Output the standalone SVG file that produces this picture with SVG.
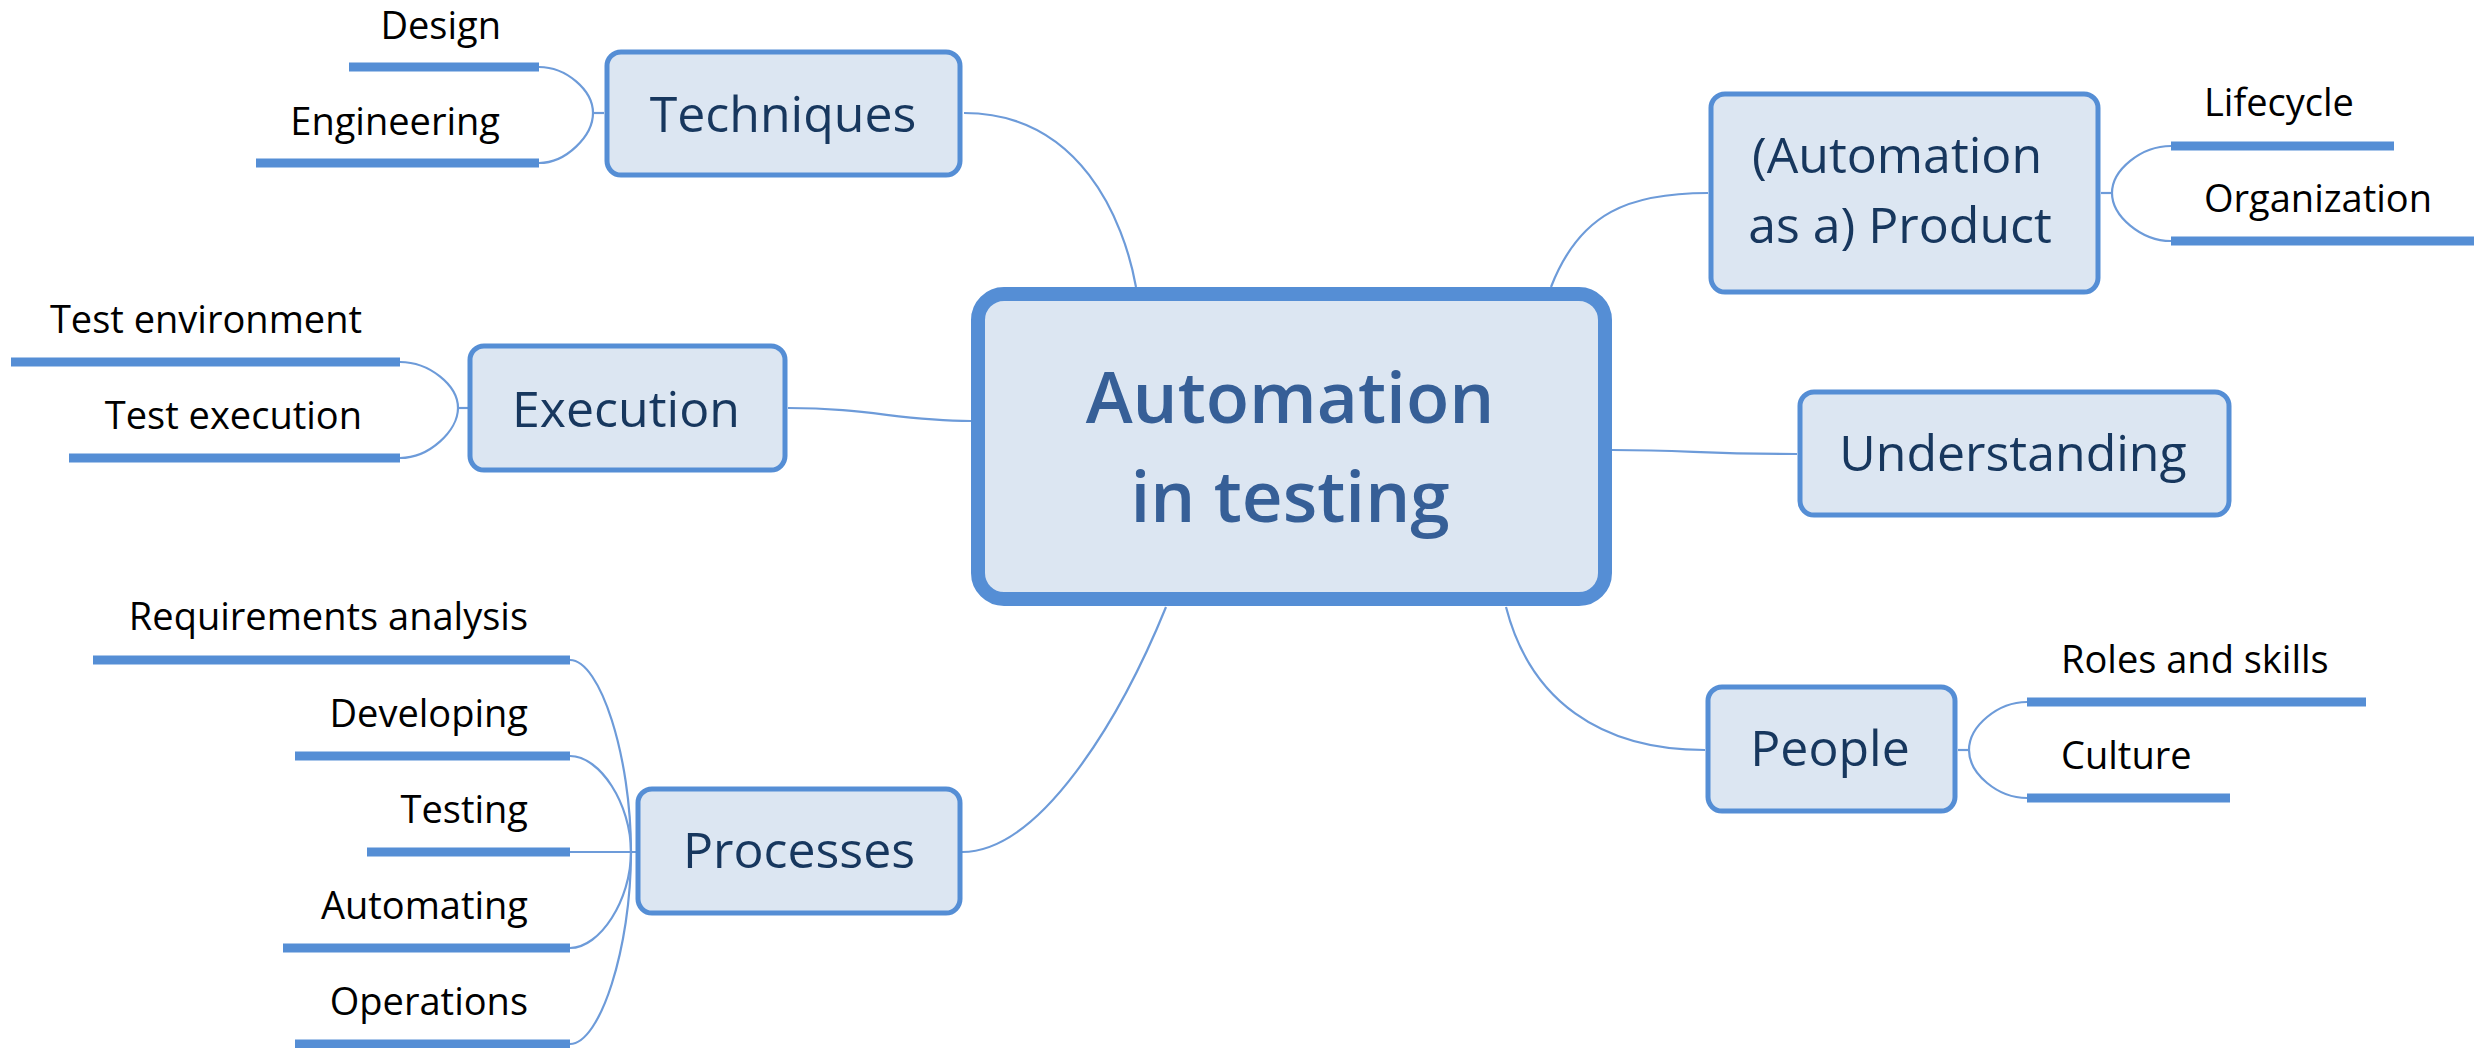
<svg xmlns="http://www.w3.org/2000/svg" width="2474" height="1048" viewBox="0 0 2474 1048">
<style>
.bg{fill:#ffffff}
.topic{fill:#dce6f2;stroke:#558ed5;stroke-width:5}
.central{fill:#dce6f2;stroke:#558ed5;stroke-width:14}
.tt{font-family:"Open Sans","Liberation Sans",sans-serif;font-size:50px;fill:#17375e}
.ct{font-family:"Open Sans","Liberation Sans",sans-serif;font-size:71px;font-weight:600;fill:#365f97}
.st{font-family:"Open Sans","Liberation Sans",sans-serif;font-size:38px;fill:#000000}
.ul{stroke:#558ed5;stroke-width:9;fill:none}
.cn{stroke:#6d9bd9;stroke-width:2.2;fill:none}
</style>
<rect class="bg" x="0" y="0" width="2474" height="1048"/>
<g id="connectors">
  <!-- central to main topics -->
  <path class="cn" d="M964,113 C1080,113 1124,220 1136,287"/>
  <path class="cn" d="M788,408 C870,408 900,421 971,421"/>
  <path class="cn" d="M962,852 C1040,852 1120,720 1166,607"/>
  <path class="cn" d="M1551,287 C1580,212 1630,193 1708,193"/>
  <path class="cn" d="M1612,450 C1690,450 1700,454 1797,454"/>
  <path class="cn" d="M1506,607 C1530,700 1600,750 1705,750"/>
  <!-- Techniques subtopics -->
  <path class="cn" d="M604,113 L593,113"/>
  <path class="cn" d="M539,67 C566,67 593,90 593,113 C593,136 566,163 539,163"/>
  <!-- Execution subtopics -->
  <path class="cn" d="M470,408 L458,408"/>
  <path class="cn" d="M400,362 C429,362 458,385 458,408 C458,431 429,458 400,458"/>
  <!-- Processes subtopics -->
  <path class="cn" d="M638,852 L570,852"/>
  <path class="cn" d="M570,660 C600,660 631,756 631,852"/>
  <path class="cn" d="M570,756 C600,756 631,804 631,852"/>
  <path class="cn" d="M570,948 C600,948 631,900 631,852"/>
  <path class="cn" d="M570,1044 C600,1044 631,948 631,852"/>
  <!-- Product subtopics -->
  <path class="cn" d="M2101,193 L2112,193"/>
  <path class="cn" d="M2171,146 C2141,146 2112,170 2112,193 C2112,216 2141,241 2171,241"/>
  <!-- People subtopics -->
  <path class="cn" d="M1958,750 L1969,750"/>
  <path class="cn" d="M2027,702 C1998,702 1969,726 1969,750 C1969,774 1998,798 2027,798"/>
</g>
<g id="central">
  <rect class="central" x="978" y="294" width="627" height="305" rx="26"/>
  <text class="ct" x="1290" y="423" text-anchor="middle">Automation</text>
  <text class="ct" x="1290" y="522" text-anchor="middle">in testing</text>
</g>
<g id="techniques">
  <rect class="topic" x="607" y="52" width="353" height="123" rx="14"/>
  <text class="tt" x="783" y="132" text-anchor="middle">Techniques</text>
</g>
<g id="design">
  <line class="ul" x1="349" y1="67" x2="539" y2="67"/>
  <text class="st" x="501" y="39" text-anchor="end">Design</text>
</g>
<g id="engineering">
  <line class="ul" x1="256" y1="163" x2="539" y2="163"/>
  <text class="st" x="500" y="135" text-anchor="end">Engineering</text>
</g>
<g id="execution">
  <rect class="topic" x="470" y="346" width="315" height="124" rx="14"/>
  <text class="tt" x="626" y="427" text-anchor="middle">Execution</text>
</g>
<g id="test-environment">
  <line class="ul" x1="11" y1="362" x2="400" y2="362"/>
  <text class="st" x="362" y="333" text-anchor="end">Test environment</text>
</g>
<g id="test-execution">
  <line class="ul" x1="69" y1="458" x2="400" y2="458"/>
  <text class="st" x="362" y="429" text-anchor="end">Test execution</text>
</g>
<g id="processes">
  <rect class="topic" x="638" y="789" width="322" height="124" rx="14"/>
  <text class="tt" x="799" y="868" text-anchor="middle">Processes</text>
</g>
<g id="requirements-analysis">
  <line class="ul" x1="93" y1="660" x2="570" y2="660"/>
  <text class="st" x="528" y="630" text-anchor="end">Requirements analysis</text>
</g>
<g id="developing">
  <line class="ul" x1="295" y1="756" x2="570" y2="756"/>
  <text class="st" x="528" y="727" text-anchor="end">Developing</text>
</g>
<g id="testing">
  <line class="ul" x1="367" y1="852" x2="570" y2="852"/>
  <text class="st" x="528" y="823" text-anchor="end">Testing</text>
</g>
<g id="automating">
  <line class="ul" x1="283" y1="948" x2="570" y2="948"/>
  <text class="st" x="528" y="919" text-anchor="end">Automating</text>
</g>
<g id="operations">
  <line class="ul" x1="295" y1="1044" x2="570" y2="1044"/>
  <text class="st" x="528" y="1015" text-anchor="end">Operations</text>
</g>
<g id="product">
  <rect class="topic" x="1711" y="94" width="387" height="198" rx="14"/>
  <text class="tt" x="1897" y="173" text-anchor="middle">(Automation</text>
  <text class="tt" x="1900" y="243" text-anchor="middle">as a) Product</text>
</g>
<g id="lifecycle">
  <line class="ul" x1="2171" y1="146" x2="2394" y2="146"/>
  <text class="st" x="2204" y="116" text-anchor="start">Lifecycle</text>
</g>
<g id="organization">
  <line class="ul" x1="2171" y1="241" x2="2474" y2="241"/>
  <text class="st" x="2204" y="212" text-anchor="start">Organization</text>
</g>
<g id="understanding">
  <rect class="topic" x="1800" y="392" width="429" height="123" rx="14"/>
  <text class="tt" x="2013" y="471" text-anchor="middle">Understanding</text>
</g>
<g id="people">
  <rect class="topic" x="1708" y="687" width="247" height="124" rx="14"/>
  <text class="tt" x="1830" y="766" text-anchor="middle">People</text>
</g>
<g id="roles-and-skills">
  <line class="ul" x1="2027" y1="702" x2="2366" y2="702"/>
  <text class="st" x="2061" y="673" text-anchor="start">Roles and skills</text>
</g>
<g id="culture">
  <line class="ul" x1="2027" y1="798" x2="2230" y2="798"/>
  <text class="st" x="2061" y="769" text-anchor="start">Culture</text>
</g>
</svg>
